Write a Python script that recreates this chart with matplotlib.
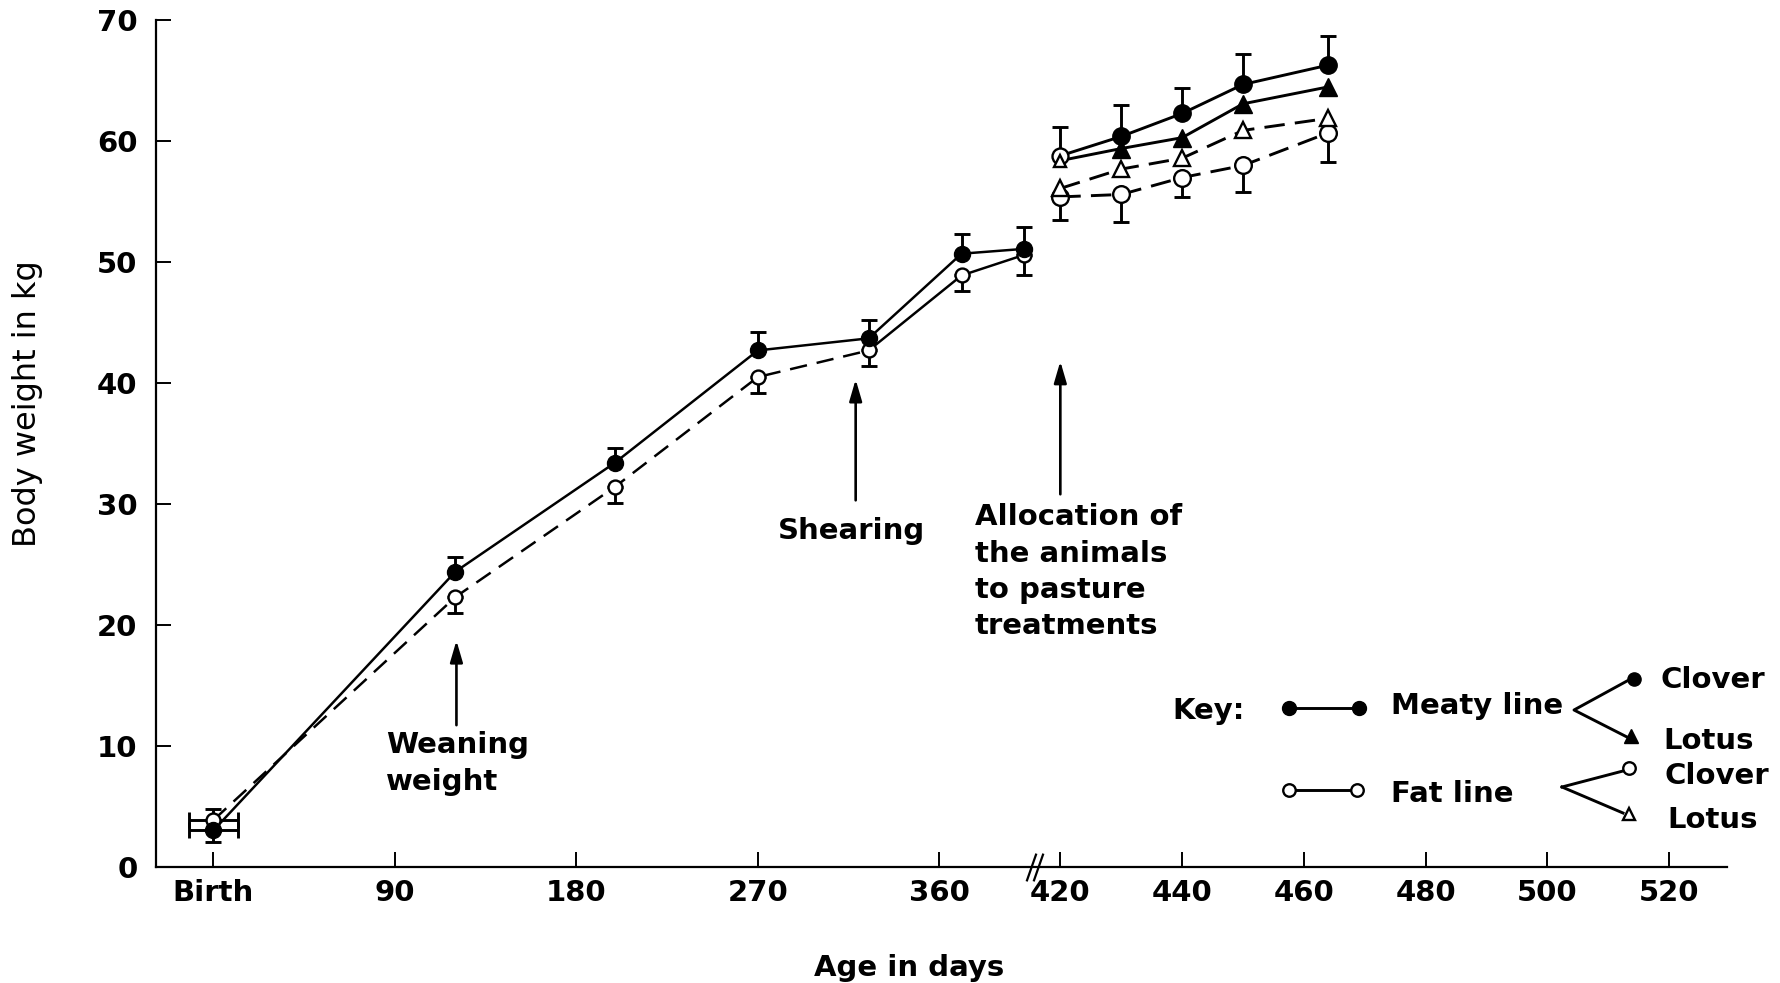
import numpy as np
import matplotlib
matplotlib.use('Agg')
import matplotlib.pyplot as plt
from matplotlib.lines import Line2D

# ---------------- data ----------------
pre_days = [0, 120, 199, 270, 325, 371, 402]
meaty_pre = [3.0, 24.4, 33.4, 42.7, 43.7, 50.7, 51.1]
meaty_pre_err_up = [0.0, 1.2, 1.2, 1.5, 1.5, 1.6, 1.8]
meaty_birth_err_down = 0.96
fat_pre = [3.85, 22.3, 31.4, 40.5, 42.7, 48.9, 50.6]
fat_pre_err_down = [0.0, 1.3, 1.3, 1.3, 1.3, 1.3, 1.7]
fat_birth_err_up = 0.9
birth_xerr = 12

post_days = [420, 430, 440, 450, 464]
meaty_clover = [58.8, 60.4, 62.3, 64.7, 66.3]
meaty_clover_err = [2.4, 2.6, 2.1, 2.5, 2.4]
meaty_lotus = [58.4, 59.4, 60.3, 63.1, 64.5]
fat_clover = [55.4, 55.6, 57.0, 58.0, 60.7]
fat_clover_err = [1.9, 2.3, 1.6, 2.2, 2.4]
fat_lotus = [56.1, 57.7, 58.6, 60.9, 61.9]

x_ticks = [0, 90, 180, 270, 360, 420, 440, 460, 480, 500, 520]
x_ticklabels = ['Birth', '90', '180', '270', '360', '420', '440', '460', '480', '500', '520']
y_ticks = [0, 10, 20, 30, 40, 50, 60, 70]

# ---------------- figure ----------------
W, H = 1781, 983
plt.rcParams['font.family'] = ['DejaVu Sans']
fig = plt.figure(figsize=(W / 100, H / 100), dpi=100)
ax = fig.add_axes([155.6 / W, 1 - 866.6 / H, (1726.5 - 155.6) / W, (866.6 - 20.4) / H])

K = 3.02  # stretch of the axis after the break
def fwd(x):
    x = np.asarray(x, dtype=float)
    return np.where(x <= 420, x, 420 + (x - 420) * K)
def inv(u):
    u = np.asarray(u, dtype=float)
    return np.where(u <= 420, u, 420 + (u - 420) / K)
ax.set_xscale('function', functions=(fwd, inv))
ax.set_xlim(-28.7, 529.4)
ax.set_ylim(0, 70)

LW = 2.1
MS = 11.5
MEW = 1.7
DASH = (0, (7, 3.5))
ek = dict(ecolor='black', elinewidth=LW, capsize=5.5, capthick=LW, fmt='none', zorder=3)

# ---- before allocation ----
ax.plot(pre_days, meaty_pre, color='black', lw=LW * 0.85, zorder=2)
ax.plot(pre_days[:5], fat_pre[:5], color='black', lw=LW * 0.85, ls=(0, (7, 4)), zorder=2)
ax.plot(pre_days[4:], fat_pre[4:], color='black', lw=LW * 0.85, zorder=2)
ax.errorbar(pre_days[1:], meaty_pre[1:], yerr=[np.zeros(6), meaty_pre_err_up[1:]], **ek)
ax.errorbar(pre_days[1:], fat_pre[1:], yerr=[fat_pre_err_down[1:], np.zeros(6)], **ek)
# birth point error bars
ax.errorbar([pre_days[0]], [meaty_pre[0]], xerr=birth_xerr,
            yerr=[[meaty_birth_err_down], [0]], **ek)
ax.errorbar([pre_days[0]], [fat_pre[0]], xerr=birth_xerr,
            yerr=[[0], [fat_birth_err_up]], **ek)
ax.plot(pre_days, fat_pre, ls='none', marker='o', ms=MS - 1.5, mfc='white', mec='black', mew=MEW, zorder=4)
ax.plot(pre_days, meaty_pre, ls='none', marker='o', ms=MS, mfc='black', mec='black', zorder=5)

# ---- after allocation ----
ax.plot(post_days, meaty_clover, color='black', lw=LW, zorder=2)
ax.plot(post_days, meaty_lotus, color='black', lw=LW, zorder=2)
ax.plot(post_days, fat_clover, color='black', lw=LW, ls=DASH, zorder=2)
ax.plot(post_days, fat_lotus, color='black', lw=LW, ls=DASH, zorder=2)
ax.errorbar(post_days, meaty_clover, yerr=[np.zeros(5), meaty_clover_err], **ek)
ax.errorbar(post_days, fat_clover, yerr=[fat_clover_err, np.zeros(5)], **ek)
ax.plot(post_days, fat_clover, ls='none', marker='o', ms=MS + 0.5, mfc='white', mec='black', mew=MEW, zorder=4)
ax.plot(post_days, fat_lotus, ls='none', marker='^', ms=MS, mfc='white', mec='black', mew=MEW, zorder=5)
ax.plot(post_days[1:], meaty_lotus[1:], ls='none', marker='^', ms=MS + 1, mfc='black', mec='black', zorder=5)
ax.plot(post_days[1:], meaty_clover[1:], ls='none', marker='o', ms=MS + 1, mfc='black', mec='black', zorder=6)
ax.plot(post_days[:1], meaty_clover[:1], ls='none', marker='o', ms=MS, mfc='white', mec='black', mew=MEW, zorder=6)
ax.plot(post_days[:1], meaty_lotus[:1], ls='none', marker='^', ms=MS - 2.5, mfc='white', mec='black', mew=MEW, zorder=7)

# ---- axes styling ----
ax.spines['top'].set_visible(False)
ax.spines['right'].set_visible(False)
for s in ('left', 'bottom'):
    ax.spines[s].set_linewidth(1.6)
ax.set_xticks(x_ticks)
ax.set_xticklabels(x_ticklabels)
ax.set_yticks(y_ticks)
ax.tick_params(axis='x', direction='in', length=11, width=1.4, pad=9, labelsize=21)
ax.tick_params(axis='y', direction='in', length=11, width=1.4, pad=13, labelsize=21)
for lab in ax.get_xticklabels() + ax.get_yticklabels():
    lab.set_fontweight('bold')

# axis break marks
for xb in (405.3, 409.0):
    ax.plot([xb], [0], transform=ax.get_xaxis_transform(), marker=[(-0.35, -1), (0.35, 1)],
            ms=20, mec='black', mew=1.6, ls='none', clip_on=False, zorder=10)

# ---- arrows ----
ap = dict(arrowstyle='-|>,head_length=1.3,head_width=0.38', color='black', lw=1.9,
          shrinkA=0, shrinkB=0)
ax.annotate('', xy=(120.5, 18.7), xytext=(120.5, 11.7), arrowprops=ap)
ax.annotate('', xy=(318.5, 40.3), xytext=(318.5, 30.3), arrowprops=ap)
ax.annotate('', xy=(420, 41.8), xytext=(420, 30.8), arrowprops=ap)

# ---- text helpers (full-pixel positions, baseline) ----
FS = 21
def ftext(x, y_base, s, ha='left', weight='bold', size=FS, **kw):
    fig.text(x / W, 1 - y_base / H, s, ha=ha, va='baseline', fontsize=size,
             fontweight=weight, **kw)

CAP = 10.6
ftext(386, 753.3, 'Weaning')
ftext(386, 790, 'weight')
ftext(851.9, 528.2 + CAP, 'Shearing', ha='center')
for i, s in enumerate(['Allocation of', 'the animals', 'to pasture', 'treatments']):
    ftext(974.6, [514.5, 550.9, 587.2, 623.6][i] + CAP, s)

ftext(908.7, 965.5 + CAP, 'Age in days', ha='center')
fig.text(28 / W, 1 - 404 / H, 'Body weight in kg', rotation=90, ha='center', va='center',
         fontsize=23)

# ---- key ----
ftext(1172, 708 + CAP, 'Key:')
ftext(1391, 703 + CAP, 'Meaty line')
ftext(1391, 791 + CAP, 'Fat line')
ftext(1661, 677 + CAP, 'Clover')
ftext(1663, 738 + CAP, 'Lotus')
ftext(1665, 773 + CAP, 'Clover')
ftext(1667, 817 + CAP, 'Lotus')

def fline(xs, ys, **kw):
    fig.add_artist(Line2D([x / W for x in xs], [1 - y / H for y in ys],
                          transform=fig.transFigure, **kw))

fline([1288.8, 1359.3], [707.5, 707.5], color='black', lw=LW, marker='o', ms=10,
      mfc='black', mec='black')
fline([1288.8, 1357.2], [790, 790], color='black', lw=LW, marker='o', ms=9,
      mfc='white', mec='black', mew=MEW)
fline([1627, 1574, 1627], [681, 710, 737], color='black', lw=LW)
fline([1562, 1623], [787, 771], color='black', lw=LW)
fline([1562, 1623], [787, 813], color='black', lw=LW)
fline([1634], [679], marker='o', ms=9.5, mfc='black', mec='black', ls='none')
fline([1631], [736], marker='^', ms=10.5, mfc='black', mec='black', ls='none')
fline([1629], [768], marker='o', ms=9, mfc='white', mec='black', mew=MEW, ls='none')
fline([1629], [814], marker='^', ms=9, mfc='white', mec='black', mew=MEW, ls='none')

fig.savefig('out.png', dpi=100, facecolor='white')
